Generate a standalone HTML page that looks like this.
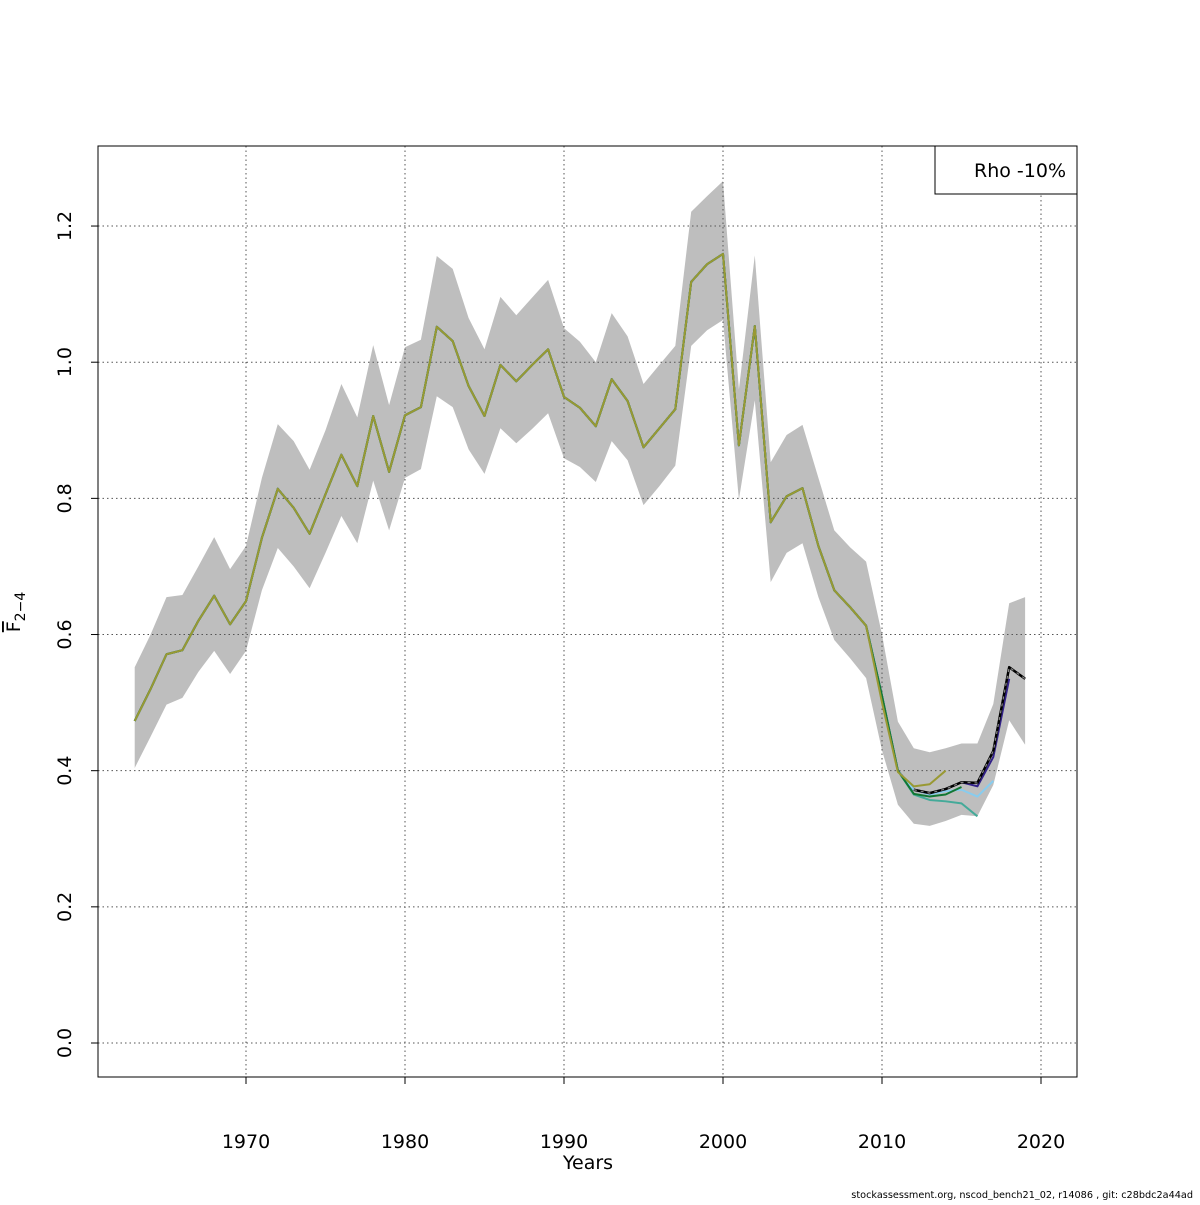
<!DOCTYPE html>
<html><head><meta charset="utf-8"><style>
body{margin:0;background:#fff}
svg text{font-family:"DejaVu Sans","Liberation Sans",sans-serif}
</style></head><body>
<svg id="c" width="1200" height="1200" xmlns="http://www.w3.org/2000/svg"></svg>
<script>
const years=[1963,1964,1965,1966,1967,1968,1969,1970,1971,1972,1973,1974,1975,1976,1977,1978,1979,1980,1981,1982,1983,1984,1985,1986,1987,1988,1989,1990,1991,1992,1993,1994,1995,1996,1997,1998,1999,2000,2001,2002,2003,2004,2005,2006,2007,2008,2009,2010,2011,2012,2013,2014,2015,2016,2017,2018,2019];
const fbar=[0.473,0.52,0.571,0.577,0.62,0.657,0.615,0.649,0.742,0.814,0.786,0.748,0.806,0.864,0.818,0.921,0.839,0.922,0.934,1.052,1.031,0.965,0.921,0.996,0.972,0.996,1.019,0.949,0.933,0.906,0.975,0.943,0.875,0.903,0.931,1.118,1.144,1.159,0.878,1.053,0.765,0.803,0.815,0.73,0.665,0.64,0.613,0.51,0.4,0.372,0.367,0.373,0.383,0.382,0.429,0.552,0.535];
const upper=[0.552,0.60,0.655,0.658,0.70,0.743,0.696,0.73,0.83,0.909,0.884,0.842,0.90,0.968,0.919,1.025,0.937,1.022,1.033,1.156,1.137,1.065,1.019,1.096,1.069,1.095,1.121,1.05,1.03,1.0,1.072,1.038,0.968,0.996,1.024,1.221,1.244,1.266,0.96,1.157,0.853,0.893,0.908,0.83,0.753,0.728,0.707,0.6,0.472,0.433,0.427,0.433,0.44,0.44,0.498,0.646,0.655];
const lower=[0.404,0.45,0.497,0.507,0.545,0.576,0.542,0.576,0.665,0.727,0.70,0.668,0.72,0.774,0.734,0.826,0.753,0.83,0.843,0.95,0.934,0.872,0.836,0.903,0.881,0.902,0.925,0.859,0.846,0.824,0.884,0.856,0.79,0.818,0.848,1.024,1.047,1.062,0.798,0.944,0.677,0.72,0.734,0.655,0.592,0.565,0.536,0.43,0.35,0.322,0.319,0.326,0.335,0.333,0.379,0.474,0.438];
const peelTail1=[0.372,0.367,0.373,0.383,0.377,0.42,0.535];
const peelTail2=[0.372,0.365,0.37,0.372,0.362,0.385];
const peelTail3=[0.365,0.357,0.355,0.352,0.333];
const peelTail4=[0.366,0.362,0.365,0.376];
const peelTail5=[0.50,0.398,0.377,0.38,0.40];
const peelColors=["#332288","#88CCEE","#44AA99","#117733","#999933"];
const xTicks=[1970,1980,1990,2000,2010,2020];
const yTicks=[0,0.2,0.4,0.6,0.8,1.0,1.2];
const yLabels=["0.0","0.2","0.4","0.6","0.8","1.0","1.2"];

const NS="http://www.w3.org/2000/svg";
const svg=document.getElementById('c');
const X=y=>246+(y-1970)*15.9;
const Y=v=>1043-v*680.8;
function mk(t,a,p){const e=document.createElementNS(NS,t);for(const k in a)e.setAttribute(k,a[k]);(p||svg).appendChild(e);return e;}

let pts=years.map((y,i)=>X(y)+','+Y(upper[i])).concat(years.slice().reverse().map((y,j)=>X(y)+','+Y(lower[years.length-1-j])));
const band=mk('polygon',{points:pts.join(' '),fill:'#bebebe'});



xTicks.forEach(t=>{const g=mk('line',{x1:X(t),x2:X(t),y1:146,y2:1077,stroke:'#555','stroke-dasharray':'1.5,3','stroke-width':1});

});
yTicks.forEach(t=>{const g=mk('line',{x1:98,x2:1077,y1:Y(t),y2:Y(t),stroke:'#555','stroke-dasharray':'1.5,3','stroke-width':1});

});

function line(ys,vals,attrs,name){const l=mk('polyline',Object.assign({points:ys.map((y,i)=>X(y)+','+Y(vals[i])).join(' '),fill:'none','stroke-width':2,'stroke-linejoin':'round'},attrs));

}

line(years,fbar,{stroke:'#000'},'base-fbar-line');
const tails=[peelTail1,peelTail2,peelTail3,peelTail4,peelTail5];
tails.forEach((tail,k)=>{const endIdx=years.length-2-k;const start=endIdx-tail.length+1;
const vals=fbar.slice(0,start).concat(tail);const ys=years.slice(0,endIdx+1);
line(ys,vals,{stroke:peelColors[k]},'retro-peel-'+(k+1));});
const s=49;
line(years.slice(s),fbar.slice(s),{stroke:'#000','stroke-width':2.5},'base-fbar-tail');
line(years.slice(s),fbar.slice(s),{stroke:'#888','stroke-width':1.2,'stroke-dasharray':'3,4'},'base-fbar-tail-dash');

const box=mk('rect',{x:98,y:146,width:979,height:931,fill:'none',stroke:'#000','stroke-width':1});



xTicks.forEach(t=>{mk('line',{x1:X(t),x2:X(t),y1:1077,y2:1084,stroke:'#000'});
const tx=mk('text',{x:X(t),y:1148,'text-anchor':'middle','font-size':19});tx.textContent=t;

});
yTicks.forEach((t,i)=>{mk('line',{x1:91,x2:98,y1:Y(t),y2:Y(t),stroke:'#000'});
const tx=mk('text',{x:71,y:Y(t),'text-anchor':'middle','font-size':19,transform:`rotate(-90 71 ${Y(t)})`});tx.textContent=yLabels[i];

});

const xt=mk('text',{x:588,y:1169,'text-anchor':'middle','font-size':19});xt.textContent='Years';


const yt=mk('text',{x:20,y:612,'text-anchor':'middle','font-size':19,transform:'rotate(-90 20 612)'});
yt.innerHTML='<tspan text-decoration="overline">F</tspan><tspan font-size="14" dy="5">2−4</tspan>';



const lg=mk('rect',{x:935,y:146,width:142,height:48,fill:'#fff',stroke:'#000'});


const lt=mk('text',{x:1020,y:177,'text-anchor':'middle','font-size':19});lt.textContent='Rho -10%';



const ft=mk('text',{x:1193,y:1198,'text-anchor':'end','font-size':9.7});ft.textContent='stockassessment.org, nscod_bench21_02, r14086 , git: c28bdc2a44ad';


</script>
</body></html>
